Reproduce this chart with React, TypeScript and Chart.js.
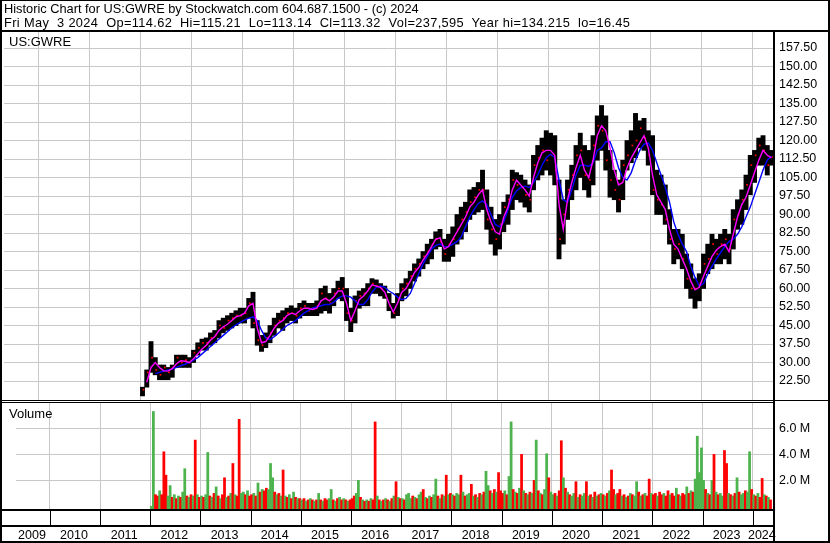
import React, { useEffect, useRef } from 'react';
import { Chart, registerables } from 'chart.js';

Chart.register(...registerables);

const FONT = "'Liberation Sans', Arial, Helvetica, sans-serif";
const FIRST_YEAR = 2012; // monthly / half-monthly series start in Jan 2012
const X_MIN = 2009.326;
const X_MAX = 2024.404;

const yearBoundaries = [2010, 2011, 2012, 2013, 2014, 2015, 2016, 2017, 2018, 2019, 2020, 2021, 2022, 2023, 2024];
const yearLabels = [2009, 2010, 2011, 2012, 2013, 2014, 2015, 2016, 2017, 2018, 2019, 2020, 2021, 2022, 2023, 2024];
const priceTicks = [22.5, 30, 37.5, 45, 52.5, 60, 67.5, 75, 82.5, 90, 97.5, 105, 112.5, 120, 127.5, 135, 142.5, 150, 157.5];
const volumeTicks = [2, 4, 6];

// Monthly high / low / close (Jan 2012 .. May 2024)
const priceHigh = [
  20, 27, 38.5, 32, 29, 29, 28, 29, 33, 33, 33, 32,
  35, 38, 39.5, 40, 42, 43, 47, 48, 49, 50, 51, 52,
  52, 56, 58.5, 47, 41, 42, 45, 48, 50, 51, 52, 53,
  52, 54, 55, 54, 54, 55, 60, 61, 58, 60, 63, 64.5,
  60, 52, 57, 59, 60, 62, 64, 63.5, 62, 61, 58, 54,
  58, 62, 64, 67, 70, 72, 75, 78, 80, 83, 84, 80,
  82, 85, 90, 93, 95, 100, 101, 103, 108, 100, 93, 88,
  90, 95, 98, 108, 107, 106, 104, 102, 114, 118, 121, 124,
  123, 122, 104, 96, 104, 110, 118, 123, 118, 116, 122, 130,
  134.2, 130, 116, 108, 104, 112, 120, 124, 131, 128, 129, 124,
  122, 108, 106, 102, 92, 84, 84, 82, 74, 70, 64, 66,
  74, 78, 82, 80, 82, 84, 82, 92, 96, 100, 106, 114,
  116, 121, 122, 118, 116,
];
const priceLow = [
  16.45, 20, 26, 25, 23, 23, 23, 24, 28, 28, 28, 28,
  30, 33, 35, 35, 37, 38, 40, 42, 43, 44, 45, 46,
  46, 48, 44, 37, 34.5, 36, 38, 41, 44, 43, 46, 47,
  46, 48, 49, 49, 49, 49, 50, 51, 50, 53, 56, 55,
  47, 42.5, 46, 52, 53, 53, 58, 58, 57, 56, 51, 48,
  49, 55, 57, 60, 63, 65, 68, 70, 72, 76, 77, 71,
  71, 73, 78, 80, 83, 88, 90, 91, 92, 84, 78, 73.5,
  76, 83, 86, 92, 96, 95, 93, 91, 100, 104, 106, 108,
  106, 102, 72, 78, 88, 96, 100, 105, 100, 97, 102, 112,
  116, 108, 97, 96, 91, 96, 108, 111, 113, 117, 116, 110,
  98, 90, 90, 86, 78, 70, 72, 68, 60, 56, 52, 55,
  60, 66, 68, 70, 70, 72, 70, 76, 84, 86, 92, 98,
  103, 110, 110, 106, 110,
];
const priceClose = [
  19, 26, 32, 27, 25, 28, 26, 28, 32, 30, 31, 30,
  34, 36, 38, 38, 40, 41, 45, 44, 47, 48, 49, 49,
  50, 54, 46, 39, 37, 40, 42, 45, 47, 48, 50, 50,
  49, 52, 53, 51, 52, 53, 58, 56, 54, 58, 60, 60,
  50, 47, 55, 57, 58, 60, 62, 61, 60, 57, 53, 50,
  56, 60, 62, 65, 68, 70, 73, 75, 78, 80, 79, 74,
  78, 80, 84, 88, 91, 95, 97, 100, 100, 88, 84, 80,
  86, 93, 96, 104, 102, 101, 98, 96, 110, 113, 116, 112,
  114, 108, 80, 90, 100, 106, 114, 116, 106, 104, 118, 126,
  124, 112, 104, 100, 96, 110, 114, 118, 120, 125, 121, 114,
  100, 96, 94, 88, 80, 76, 78, 72, 64, 60, 60, 62,
  70, 72, 78, 74, 78, 80, 76, 88, 90, 96, 102, 110,
  114, 118, 116, 110, 113.32,
];
// Short moving average (magenta), monthly readings
const maShort = [
  null, 22, 28, 30, 28, 26.6, 26.5, 27.5, 29.5, 30.7, 30.5, 30,
  31.5, 33.5, 35.5, 37, 39, 40.5, 43, 44.5, 45.5, 47, 48.5, 49,
  50, 53, 54, 44, 38, 38.5, 41, 44, 46, 47, 49, 50,
  49.5, 51, 52, 52, 51.5, 52, 55, 56, 55, 56.5, 59, 59,
  54, 47, 51, 55.5, 57, 59, 61.5, 61, 60.5, 58.5, 54, 50.5,
  54, 58.5, 60, 63, 66.5, 68.5, 71.5, 74, 77, 80, 80.5, 76,
  77, 80, 83, 86, 89, 93, 95, 98, 100, 92, 87, 83,
  82, 89, 93, 100, 104, 102, 100, 97.5, 105, 111, 115, 116,
  116, 114, 94, 84, 96, 103, 109, 114, 108, 105, 112, 122,
  126, 124, 117, 108, 102, 103, 109, 113, 116, 119, 122, 117,
  106, 98, 95, 92, 84, 78, 76, 72, 68, 63, 59.5, 60.5,
  65, 69, 73, 75.5, 77, 78, 75, 82, 89, 94, 97, 102,
  107, 112, 116, 114, 113,
];
// Long moving average (blue), monthly readings
const maLong = [
  null, null, null, 25.5, 26, 26.5, 27, 27.3, 28, 28.7, 29.3, 30,
  31, 32, 33.5, 35, 36.5, 38, 39.5, 41, 42.5, 44, 45.3, 46.3,
  47.2, 48, 48.5, 47, 43, 40, 39.3, 40.5, 42, 43.5, 45, 46,
  47, 48.5, 50, 51, 52, 52.5, 53, 53.5, 53.5, 54.5, 56, 57,
  57, 56.5, 55, 53.5, 53.5, 55.5, 58.5, 60.5, 61, 60.5, 59, 58,
  56.5, 55.5, 56, 58, 62, 66, 70, 73, 76, 77.5, 78, 77,
  77, 78, 79, 81, 85, 89, 92, 94.5, 95.5, 94, 90, 86,
  85, 87, 92, 97, 99.5, 101, 101.5, 101, 103, 106, 110, 113,
  114.5, 113, 104, 96, 95, 100, 106, 110, 110, 109.5, 111, 116,
  117, 119.5, 119.5, 115, 109, 105, 104, 107, 112, 116, 118.5, 119,
  116, 111, 106, 101, 95, 87, 82, 78, 75, 69, 64.5, 61,
  62, 66, 69, 72, 74.5, 77, 79, 80, 82, 85, 89, 93,
  98, 103, 108, 112, 113.6,
];
// Half-monthly volume in millions (Jan 2012 .. early May 2024)
const volume = [
  0, 7.3, 0.9, 0.8, 1.2, 0.9, 4.2, 2.4, 0.8, 1.6, 0.7, 0.9, 0.6, 0.8, 0.7, 1.1, 2.9, 0.8, 0.7, 0.9, 0.8, 5.1, 0.9, 0.7,
  0.8, 0.7, 0.9, 4.15, 0.8, 0.7, 1.0, 1.5, 0.8, 0.6, 0.9, 2.2, 0.7, 0.8, 1.0, 3.3, 0.9, 0.8, 6.7, 1.0, 1.1, 0.9, 1.2, 0.8,
  0.9, 1.0, 0.8, 1.8, 1.1, 1.3, 1.2, 1.4, 1.3, 3.3, 2.2, 1.1, 0.9, 1.0, 0.8, 2.8, 0.8, 0.7, 0.9, 0.6, 1.1, 0.7, 0.6, 0.6,
  0.5, 0.6, 0.4, 0.5, 0.6, 0.5, 0.4, 0.5, 1.0, 0.5, 0.4, 0.6, 0.5, 0.6, 1.3, 0.5, 0.4, 0.6, 0.7, 0.5, 0.6, 0.5, 0.4, 0.5,
  0.6, 0.8, 1.0, 2.0, 0.7, 0.5, 0.4, 0.5, 0.4, 0.6, 0.5, 6.5, 0.8, 0.5, 0.4, 0.5, 0.6, 0.5, 0.4, 0.6, 0.8, 1.9, 0.7, 0.6,
  0.6, 0.5, 0.9, 1.0, 0.6, 0.8, 0.7, 0.6, 0.9, 1.1, 1.3, 0.7, 0.6, 0.8, 0.7, 0.9, 2.1, 0.8, 0.6, 0.9, 0.8, 2.4, 0.9, 1.0,
  0.9, 0.8, 1.0, 0.9, 2.4, 1.1, 0.8, 0.9, 1.0, 1.7, 0.8, 0.9, 0.7, 1.0, 0.9, 1.1, 2.7, 1.6, 1.2, 1.0, 1.3, 1.1, 2.6, 1.2,
  1.0, 1.2, 0.9, 2.3, 6.5, 1.3, 1.1, 1.0, 1.4, 4.0, 1.2, 1.0, 0.9, 1.1, 1.0, 2.0, 5.1, 1.2, 1.0, 0.9, 1.3, 4.05, 2.2, 1.1,
  0.9, 1.0, 0.8, 1.2, 5.05, 2.2, 1.4, 1.1, 0.9, 0.8, 1.0, 1.9, 0.7, 0.9, 0.8, 1.0, 1.9, 0.8, 0.9, 0.7, 1.1, 0.8, 0.9, 1.0,
  0.9, 0.8, 1.0, 1.2, 2.8, 1.3, 0.9, 1.0, 1.3, 0.8, 0.9, 0.7, 0.8, 1.0, 0.9, 0.8, 1.9, 1.1, 0.8, 0.9, 1.0, 0.8, 2.1, 1.0,
  0.9, 1.0, 0.8, 1.1, 0.9, 1.0, 0.8, 1.2, 0.9, 1.0, 0.8, 1.4, 0.9, 0.8, 1.0, 0.9, 1.5, 1.0, 1.2, 1.1, 2.1, 5.4, 2.6, 4.5,
  2.0, 1.3, 1.0, 0.9, 2.0, 4.0, 1.1, 0.9, 1.0, 0.8, 4.3, 3.3, 1.0, 0.9, 0.8, 1.0, 2.2, 1.1, 0.9, 1.0, 1.2, 1.1, 4.2, 1.3,
  0.9, 0.8, 1.0, 0.7, 2.15, 0.9, 0.8, 0.7, 0.5,
];
// g = up period, r = down period
const volumeDirection =
  'ggrrgrrrggrgrgrggrgrgrgr' +
  'grggrgrgrgrrgrgrgrrggrgr' +
  'rgrgrgrrgggrgrgrgrgrgrgr' +
  'grgrgrgrgrgrrggrgrgrgrgr' +
  'rrggrgrgrgrrgrgrgrgrgrgr' +
  'grgggrgrggrgrgrggrgrgrgr' +
  'grggrgrggrgrgrgrggrgrgrr' +
  'rgrggrgrgrgrgrgrgrgrggrg' +
  'grgrrgrgrggrgrggrgrgrgrg' +
  'rgrgrrgrrgrgrgrggrgrgrrg' +
  'rrgrrgrrgrrgrgrrgrgrgggg' +
  'grgrgrgrggrrgrgrgrggrggr' +
  'grgrrgrgr';

const header1 = 'Historic Chart for US:GWRE by Stockwatch.com 604.687.1500 - (c) 2024';
const header2 = 'Fri May  3 2024  Op=114.62  Hi=115.21  Lo=113.14  Cl=113.32  Vol=237,595  Year hi=134.215  lo=16.45';
const symbolLabel = 'US:GWRE';
const volumeLabel = 'Volume';

const GRID = '#c8c8c8';
const monthX = (i: number) => FIRST_YEAR + (i + 0.5) / 12;
const halfX = (i: number) => FIRST_YEAR + (i + 0.5) / 24;
const VOL_MIN = -0.2;
const VOL_MAX = 8.03;

const framePlugin = {
  id: 'frame',
  afterDraw(chart: any) {
    const ctx = chart.ctx;
    const xs = chart.scales.xg;
    ctx.save();
    ctx.fillStyle = '#000';
    ctx.fillRect(0, 0, 830, 1);
    ctx.fillRect(0, 0, 2, 543);
    ctx.fillRect(828, 0, 2, 543);
    ctx.fillRect(0, 541, 830, 2);
    ctx.fillRect(0, 30, 830, 2);
    ctx.fillRect(773, 30, 2, 513);
    ctx.fillRect(0, 400, 830, 1);
    ctx.fillRect(0, 402, 773, 1);
    ctx.fillRect(0, 509, 773, 2);
    ctx.fillRect(0, 525, 773, 2);
    yearBoundaries.forEach((y) => {
      const px = Math.round(xs.getPixelForValue(y));
      ctx.fillRect(px, 511, 1, 14);
    });
    ctx.restore();
  },
};

export default function App() {
  const priceRef = useRef<HTMLCanvasElement>(null);
  const volRef = useRef<HTMLCanvasElement>(null);

  useEffect(() => {
    const tickFont = { family: FONT, size: 12.5 };
    const priceChart = new Chart(priceRef.current as HTMLCanvasElement, {
      type: 'bar',
      data: {
        datasets: [
          {
            type: 'line',
            data: maShort.map((v, i) => ({ x: monthX(i), y: v })),
            borderColor: '#ff00ff',
            borderWidth: 1.4,
            pointRadius: 0,
            tension: 0,
            order: 0,
          } as any,
          {
            type: 'line',
            data: maLong.map((v, i) => ({ x: monthX(i), y: v })),
            borderColor: '#0000ff',
            borderWidth: 1.4,
            pointRadius: 0,
            tension: 0,
            order: 1,
          } as any,
          {
            type: 'line',
            data: priceClose.map((v, i) => ({ x: monthX(i) + 0.02, y: v })),
            showLine: false,
            pointStyle: 'rect',
            pointRadius: 1.2,
            pointBackgroundColor: '#ff0000',
            pointBorderWidth: 0,
            order: 2,
          } as any,
          {
            type: 'bar',
            data: priceLow.map((lo, i) => ({ x: monthX(i), y: [lo, priceHigh[i]] })),
            backgroundColor: '#000000',
            barPercentage: 1,
            categoryPercentage: 1,
            order: 3,
          } as any,
        ],
      },
      options: {
        animation: false,
        responsive: false,
        devicePixelRatio: 1,
        layout: { padding: { top: 32, left: 1, right: 0, bottom: 143 } },
        plugins: { legend: { display: false }, tooltip: { enabled: false } },
        scales: {
          x: {
            type: 'linear',
            min: X_MIN,
            max: X_MAX,
            offset: false,
            afterBuildTicks: (s: any) => { s.ticks = yearBoundaries.map((v) => ({ value: v })); },
            ticks: { display: false },
            grid: { color: GRID, lineWidth: 1, drawTicks: false, offset: false },
            border: { display: false },
            afterFit: (s: any) => { s.height = 0; },
          },
          y: {
            type: 'linear',
            position: 'right',
            min: 14.8,
            max: 164,
            beginAtZero: false,
            afterBuildTicks: (s: any) => { s.ticks = priceTicks.map((v) => ({ value: v })); },
            ticks: {
              callback: (v: any) => Number(v).toFixed(2),
              font: tickFont,
              color: '#000',
              padding: 6,
            },
            grid: { color: GRID, lineWidth: 1, drawTicks: false },
            border: { display: false },
            afterFit: (s: any) => { s.width = 57; },
          },
        },
      } as any,
    });

    const volumeChart = new Chart(volRef.current as HTMLCanvasElement, {
      type: 'bar',
      data: {
        datasets: [
          {
            data: volume.map((v, i) => ({ x: halfX(i), y: v })),
            backgroundColor: volume.map((_, i) => (volumeDirection[i] === 'g' ? '#4db34d' : '#ff0000')),
            barPercentage: 1,
            categoryPercentage: 1,
            base: VOL_MIN,
            xAxisID: 'x',
          } as any,
        ],
      },
      options: {
        animation: false,
        responsive: false,
        devicePixelRatio: 1,
        layout: { padding: { top: 402, left: 1, right: 0, bottom: 0 } },
        plugins: { legend: { display: false }, tooltip: { enabled: false } },
        scales: {
          x: {
            type: 'linear',
            position: 'bottom',
            min: X_MIN,
            max: X_MAX,
            offset: false,
            afterBuildTicks: (s: any) => {
              s.ticks = yearLabels.map((y) => ({ value: (Math.max(y, X_MIN) + Math.min(y + 1, X_MAX)) / 2 }));
            },
            ticks: {
              callback: (_v: any, i: number) => String(yearLabels[i]),
              font: tickFont,
              color: '#000',
              padding: 19,
              maxRotation: 0,
              autoSkip: false,
              labelOffset: -1,
            },
            grid: { display: false, drawTicks: false },
            border: { display: false },
            afterFit: (s: any) => { s.height = 34; },
          },
          xg: {
            type: 'linear',
            position: 'bottom',
            min: X_MIN,
            max: X_MAX,
            offset: false,
            afterBuildTicks: (s: any) => { s.ticks = yearBoundaries.map((v) => ({ value: v })); },
            ticks: { display: false },
            grid: { color: GRID, lineWidth: 1, drawTicks: false, offset: false },
            border: { display: false },
            afterFit: (s: any) => { s.height = 0; },
          },
          y: {
            type: 'linear',
            position: 'right',
            min: VOL_MIN,
            max: VOL_MAX,
            beginAtZero: false,
            afterBuildTicks: (s: any) => { s.ticks = volumeTicks.map((v) => ({ value: v })); },
            ticks: {
              callback: (v: any) => Number(v).toFixed(1) + ' M',
              font: tickFont,
              color: '#000',
              padding: 6,
            },
            grid: { color: GRID, lineWidth: 1, drawTicks: false },
            border: { display: false },
            afterFit: (s: any) => { s.width = 57; },
          },
        },
      } as any,
      plugins: [framePlugin],
    });

    return () => {
      priceChart.destroy();
      volumeChart.destroy();
    };
  }, []);

  const textStyle: React.CSSProperties = {
    position: 'absolute',
    font: `12.8px/15px ${FONT}`,
    whiteSpace: 'pre',
    color: '#000',
    margin: 0,
  };

  return (
    <div style={{ position: 'absolute', left: 0, top: 0, width: 830, height: 543, background: '#fff', overflow: 'hidden' }}>
      <canvas ref={priceRef} width={830} height={543} style={{ position: 'absolute', left: 0, top: 0 }} />
      <canvas ref={volRef} width={830} height={543} style={{ position: 'absolute', left: 0, top: 0 }} />
      <div style={{ ...textStyle, left: 4, top: 1 }}>{header1}</div>
      <div style={{ ...textStyle, left: 4, top: 15, letterSpacing: '0.36px' }}>{header2}</div>
      <div style={{ ...textStyle, left: 9, top: 34, fontSize: 13 }}>{symbolLabel}</div>
      <div style={{ ...textStyle, left: 9, top: 406, fontSize: 13 }}>{volumeLabel}</div>
    </div>
  );
}
